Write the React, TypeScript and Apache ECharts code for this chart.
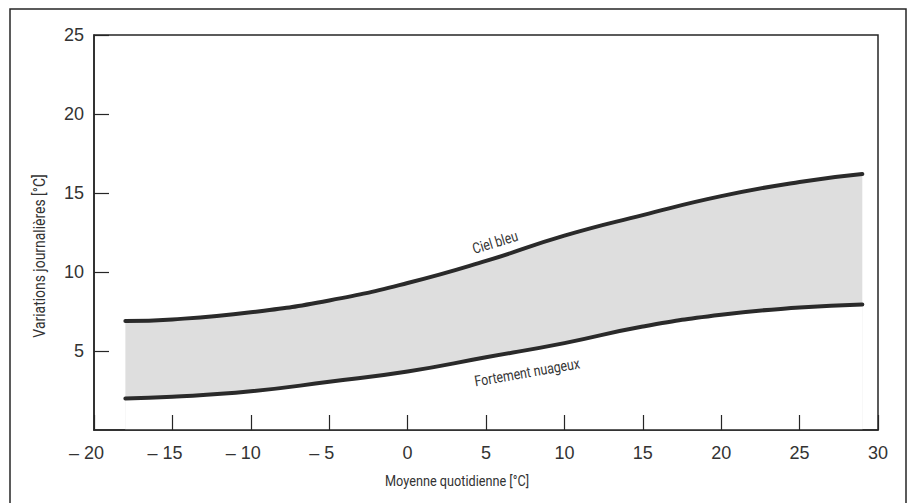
import React, { useEffect, useRef } from "react";
import * as echarts from "echarts";

const xValues = [-18, -15, -10, -5, 0, 5, 10, 15, 20, 25, 29];
const cielBleu = [6.9, 7.0, 7.45, 8.2, 9.3, 10.7, 12.3, 13.6, 14.8, 15.7, 16.2];
const fortementNuageux = [2.0, 2.1, 2.45, 3.05, 3.7, 4.6, 5.5, 6.55, 7.3, 7.75, 7.95];
const xTicks = { min: -20, max: 30, step: 5 };
const yTicks = { min: 0, max: 25, step: 5 };

const textFont = "'Roboto', 'Liberation Sans', sans-serif";
const numFont = "'Liberation Sans', Arial, sans-serif";
const ink = "#262626";

export default function App() {
  const ref = useRef<HTMLDivElement>(null);
  useEffect(() => {
    if (!ref.current) return;
    const chart = echarts.init(ref.current, undefined, { renderer: "svg" });
    const upperData = xValues.map((x, i) => [x, cielBleu[i]]);
    const lowerData = xValues.map((x, i) => [x, fortementNuageux[i]]);
    const label = (text: string, x: number, y: number, deg: number, size: number) => ({
      type: "text",
      x,
      y,
      rotation: (deg * Math.PI) / 180,
      scaleX: 0.82,
      z: 20,
      style: {
        text,
        font: `${size}px ${textFont}`,
        fill: "#333",
        align: "center",
        verticalAlign: "middle",
      },
    });
    chart.setOption({
      animation: false,
      backgroundColor: "#ffffff",
      grid: {
        left: 94,
        right: 31,
        top: 35,
        bottom: 73,
        show: true,
        borderColor: ink,
        borderWidth: 1.5,
        backgroundColor: "transparent",
      },
      xAxis: {
        type: "value",
        min: xTicks.min,
        max: xTicks.max,
        interval: xTicks.step,
        z: 10,
        splitLine: { show: false },
        axisLine: { show: true, onZero: false, lineStyle: { color: ink, width: 1.5 } },
        axisTick: { show: true, inside: true, length: 15, lineStyle: { color: ink, width: 1.2 } },
        axisLabel: {
          margin: 14,
          fontSize: 18,
          fontFamily: numFont,
          color: "#333",
          formatter: (v: number) => (v < 0 ? `{m|– }${Math.abs(v)}{h|– }` : `${v}`),
          rich: {
            m: { fontSize: 18, fontFamily: numFont, color: "#333" },
            h: { fontSize: 18, fontFamily: numFont, color: "transparent" },
          },
        },
      },
      yAxis: {
        type: "value",
        min: yTicks.min,
        max: yTicks.max,
        interval: yTicks.step,
        z: 10,
        splitLine: { show: false },
        axisLine: { show: true, onZero: false, lineStyle: { color: ink, width: 1.5 } },
        axisTick: { show: true, inside: true, length: 15, lineStyle: { color: ink, width: 1.2 } },
        axisLabel: {
          showMinLabel: false,
          margin: 10,
          fontSize: 18,
          fontFamily: numFont,
          color: "#333",
        },
      },
      series: [
        {
          name: "Ciel bleu",
          type: "line",
          smooth: 0.5,
          symbol: "none",
          data: upperData,
          lineStyle: { color: "#2a2a2a", width: 4, cap: "round" },
          areaStyle: { color: "#dedede", opacity: 1, origin: "start" },
          z: 2,
        },
        {
          name: "Fortement nuageux",
          type: "line",
          smooth: 0.5,
          symbol: "none",
          data: lowerData,
          lineStyle: { color: "#2a2a2a", width: 4, cap: "round" },
          areaStyle: { color: "#ffffff", opacity: 1, origin: "start" },
          z: 3,
        },
      ],
      graphic: [
        {
          type: "rect",
          shape: { x: 10, y: 9, width: 896, height: 520 },
          style: { fill: "none", stroke: ink, lineWidth: 1.5 },
          silent: true,
        },
        label("Variations journalières [°C]", 40, 256, 90, 17),
        label("Moyenne quotidienne [°C]", 457, 481, 0, 15.5),
        label("Ciel bleu", 495, 242, 17, 15),
        label("Fortement nuageux", 527, 372, 10, 15),
      ],
    });
    return () => chart.dispose();
  }, []);
  return (
    <div
      ref={ref}
      style={{ position: "absolute", left: 0, top: 0, width: 909, height: 503 }}
    />
  );
}
